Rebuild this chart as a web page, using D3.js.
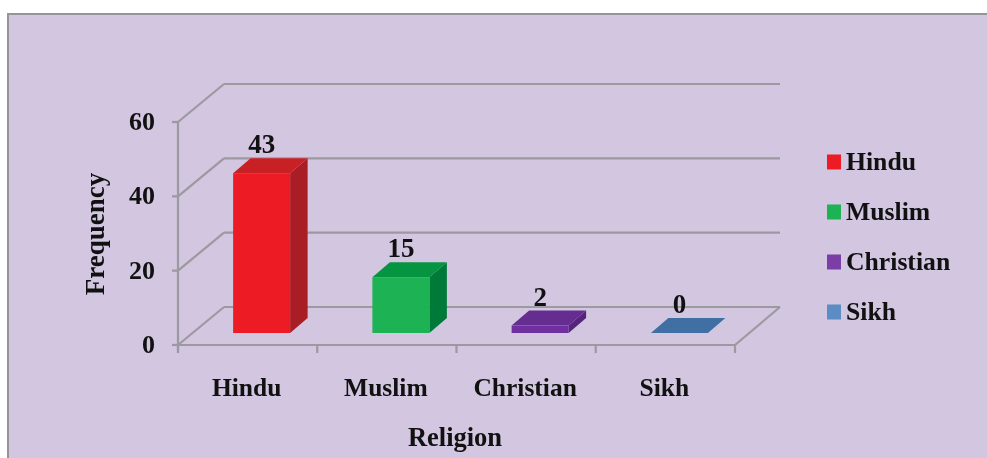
<!DOCTYPE html>
<html><head><meta charset="utf-8">
<script src="https://cdn.jsdelivr.net/npm/d3@7/dist/d3.min.js"></script>
<style>html,body{margin:0;padding:0;background:#fff}svg{display:block}text{font-family:"Liberation Serif",serif;font-weight:bold;fill:#111}</style>
</head><body><div id="chart"></div>
<script>
const categories = ["Hindu","Muslim","Christian","Sikh"];
const values = [43,15,2,0];
const yTicks = [0,20,40,60];
const frontColors = ["#ed1c24","#1db254","#7030a0","#4f81bd"];
const topColors = ["#c92026","#059440","#662d91","#3f6fa3"];
const sideColors = ["#a81e24","#007a39","#55257c","#3f6fa3"];
const legendColors = ["#ed1c24","#1db254","#7a3ea6","#5b8cc4"];
const xTitle = "Religion", yTitle = "Frequency";

const W=987,H=458, grid="#9c999f";
const svg=d3.select("#chart").append("svg").attr("width",W).attr("height",H).style("filter","blur(0.5px)");
svg.append("rect").attr("x",8).attr("y",14).attr("width",W+10).attr("height",H+10)
  .attr("fill","#d2c6e0").attr("stroke","#96939b").attr("stroke-width",2);

const x0=178,x1=735,y0=345,y1=122, wallDx=46, wallDy=38;
const x=d3.scaleBand().domain(categories).range([x0,x1]).paddingInner(0).paddingOuter(0);
const y=d3.scaleLinear().domain([0,60]).range([y0,y1]);
const g=svg.append("g");
const line=(a,b,c,d,w=2.2)=>g.append("line").attr("x1",a).attr("y1",b).attr("x2",c).attr("y2",d).attr("stroke",grid).attr("stroke-width",w);
yTicks.forEach(t=>{
  line(x0,y(t),x0+wallDx,y(t)-wallDy);
  line(x0+wallDx,y(t)-wallDy,x1+wallDx-1,y(t)-wallDy);
  line(x0-6,y(t),x0,y(t));
  g.append("text").attr("x",x0-23).attr("y",y(t)+8).attr("text-anchor","end").attr("font-size",26).text(t);
});
line(x0,y1,x0,y0+6);
line(x0,y0,x1,y0);
line(x1,y0,x1+wallDx-1,y0-wallDy);
[...categories.map(c=>x(c)),x1].forEach(p=>line(p,y0,p,y0+8));
const barW=57, dx=17.5, dy=15, off=14, base=12;
categories.forEach((c,i)=>{
  const l=x(c)+x.bandwidth()/2+off-barW/2, r=l+barW, b=y0-base, h=y0-y(values[i]), t=b-h;
  const bg=g.append("g");
  const poly=(pts,f)=>bg.append("polygon").attr("points",pts.map(p=>p.join(",")).join(" ")).attr("fill",f);
  poly([[r,b],[r+dx,b-dy],[r+dx,t-dy],[r,t]],sideColors[i]);
  poly([[l,t],[l+dx,t-dy],[r+dx,t-dy],[r,t]],topColors[i]);
  if(h>0) bg.append("rect").attr("x",l).attr("y",t).attr("width",barW).attr("height",h).attr("fill",frontColors[i]);
  g.append("text").attr("x",l+barW/2).attr("y",t-dy-5).attr("text-anchor","middle").attr("font-size",27).text(values[i]);
  g.append("text").attr("x",x(c)+x.bandwidth()/2-1).attr("y",396).attr("text-anchor","middle").attr("font-size",25.5).text(c);
});
g.append("text").attr("x",455).attr("y",446).attr("text-anchor","middle").attr("font-size",26.5).text(xTitle);
g.append("text").attr("transform","translate(104,234) rotate(-90)").attr("text-anchor","middle").attr("font-size",27).text(yTitle);
const ly=d3.scalePoint().domain(categories).range([162,312]);
categories.forEach((c,i)=>{
  g.append("rect").attr("x",827).attr("y",ly(c)-7.5).attr("width",14).attr("height",15).attr("fill",legendColors[i]);
  g.append("text").attr("x",846).attr("y",ly(c)+8).attr("font-size",25.7).text(c);
});
</script></body></html>
